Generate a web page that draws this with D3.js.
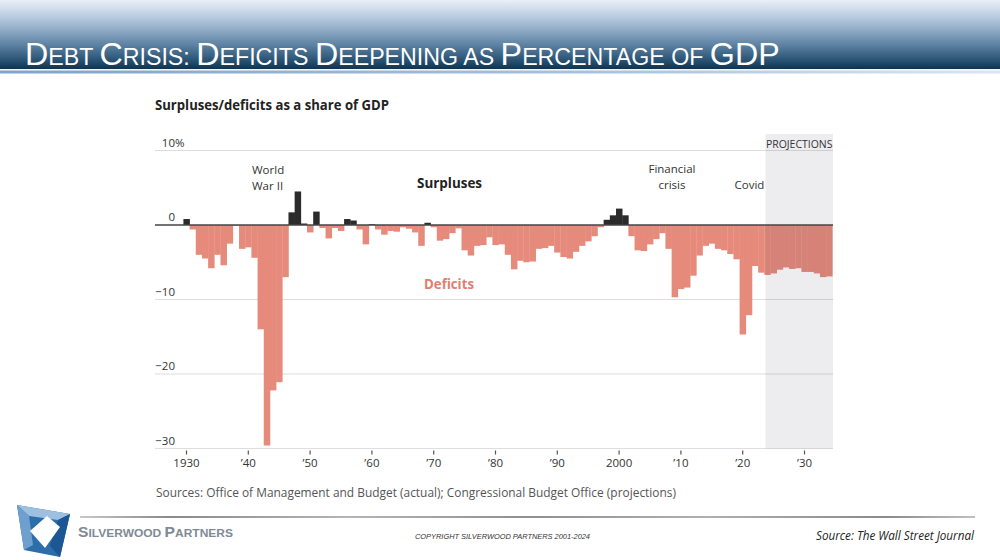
<!DOCTYPE html>
<html><head><meta charset="utf-8">
<script src="https://cdn.jsdelivr.net/npm/d3@7"></script>
<style>
html,body{margin:0;padding:0;background:#fff;}
svg{display:block;}
</style></head>
<body>
<svg id="c" width="1000" height="560"></svg>
<script>
// ---------- DATA ----------
const years = [1930,1931,1932,1933,1934,1935,1936,1937,1938,1939,
1940,1941,1942,1943,1944,1945,1946,1947,1948,1949,
1950,1951,1952,1953,1954,1955,1956,1957,1958,1959,
1960,1961,1962,1963,1964,1965,1966,1967,1968,1969,
1970,1971,1972,1973,1974,1975,1976,1977,1978,1979,
1980,1981,1982,1983,1984,1985,1986,1987,1988,1989,
1990,1991,1992,1993,1994,1995,1996,1997,1998,1999,
2000,2001,2002,2003,2004,2005,2006,2007,2008,2009,
2010,2011,2012,2013,2014,2015,2016,2017,2018,2019,
2020,2021,2022,2023,2024,2025,2026,2027,2028,2029,
2030,2031,2032,2033,2034];
const balance = [0.8,-0.6,-4.0,-4.5,-5.8,-4.0,-5.4,-2.5,-0.1,-3.2,
-3.0,-4.4,-14.0,-29.6,-22.2,-21.1,-7.0,1.7,4.5,0.2,
-1.0,1.8,-0.4,-1.8,-0.4,-0.8,0.8,0.6,-0.6,-2.6,
0.1,-0.6,-1.3,-0.8,-0.9,-0.3,-0.5,-1.0,-2.8,0.3,
-0.3,-2.1,-1.9,-1.1,-0.45,-3.4,-4.1,-2.8,-2.7,-1.65,
-2.7,-2.6,-4.0,-5.95,-4.8,-5.0,-4.9,-3.2,-3.1,-2.8,
-3.7,-4.3,-4.5,-3.6,-2.8,-2.2,-1.5,-0.3,0.7,1.3,
2.2,1.3,-1.5,-3.4,-3.5,-2.6,-1.9,-1.1,-3.2,-9.7,
-8.6,-8.4,-6.8,-4.1,-2.8,-2.5,-3.2,-3.4,-3.9,-4.6,
-14.7,-12.1,-5.5,-6.4,-6.7,-6.5,-6.0,-5.7,-5.9,-5.8,
-6.3,-6.3,-6.5,-7.0,-6.9];
const projectionStart = 2024;
const xTickYears = [1930,1940,1950,1960,1970,1980,1990,2000,2010,2020,2030];
const xTickLabels = ["1930","\u201940","\u201950","\u201960","\u201970","\u201980","\u201990","2000","\u201910","\u201920","\u201930"];
const yTicks = [10,0,-10,-20,-30];
const yTickLabels = ["10","0","\u221210","\u221220","\u221230"];

// ---------- SETUP ----------
const svg = d3.select("#c");
const defs = svg.append("defs");
const FONT = "'Open Sans', 'Noto Sans', sans-serif";

// header gradient
const hg = defs.append("linearGradient").attr("id","hg").attr("x1",0).attr("y1",0).attr("x2",0).attr("y2",1);
[[0,"#e9eff7"],[0.18,"#c5d5e7"],[0.4,"#98b1cb"],[0.65,"#5d82a3"],[0.85,"#2f5878"],[1,"#0e3452"]]
  .forEach(s=>hg.append("stop").attr("offset",s[0]).attr("stop-color",s[1]));
svg.append("rect").attr("x",0).attr("y",0).attr("width",1000).attr("height",69).attr("fill","url(#hg)");
svg.append("rect").attr("x",0).attr("y",69).attr("width",1000).attr("height",1.5).attr("fill","#f4f7fb");
const lb = defs.append("linearGradient").attr("id","lb").attr("x1",0).attr("y1",0).attr("x2",1).attr("y2",0);
[[0,"#7fa3cc"],[0.6,"#a9c2de"],[1,"#dbe6f2"]].forEach(s=>lb.append("stop").attr("offset",s[0]).attr("stop-color",s[1]));
svg.append("rect").attr("x",0).attr("y",70.5).attr("width",1000).attr("height",3).attr("fill","url(#lb)");

// header title in small caps, horizontally condensed to fit
const titleParts = [["D",1],["EBT ",0],["C",1],["RISIS: ",0],["D",1],["EFICITS ",0],["D",1],["EEPENING AS ",0],
  ["P",1],["ERCENTAGE OF ",0],["GDP",1]];
const tg = svg.append("g");
const tt = tg.append("text").attr("x",0).attr("y",0)
  .attr("font-family","'Liberation Sans',Arial,sans-serif")
  .attr("fill","#ffffff");
titleParts.forEach(p=>tt.append("tspan").attr("font-size",p[1]?32:23).text(p[0]));
const tw = tt.node().getComputedTextLength();
tg.attr("transform",`translate(25,65) scale(${755/tw},1)`);

// ---------- CHART ----------
const x = d3.scaleLinear().domain([1930,2030]).range([186,804]);
const y = d3.scaleLinear().domain([-30,10]).range([448.5,150.5]);
const left = 155, right = 833;
const bw = x(1931)-x(1930);

svg.append("text").attr("x",155).attr("y",110).attr("font-family",FONT).attr("font-weight",700)
  .attr("font-size",14).attr("fill","#222").attr("textLength",234).attr("lengthAdjust","spacingAndGlyphs")
  .text("Surpluses/deficits as a share of GDP");

// gridlines
svg.append("g").selectAll("line").data(yTicks.filter(d=>d!==0)).join("line")
  .attr("x1",left).attr("x2",right).attr("y1",d=>y(d)).attr("y2",d=>y(d))
  .attr("stroke","#dedede").attr("stroke-width",1.2);

// y labels
const yl = svg.append("g").attr("font-family",FONT).attr("font-size",11.5).attr("fill","#333");
yl.selectAll("text").data(yTicks).join("text")
  .attr("x",175).attr("y",d=>y(d)-4).attr("text-anchor","end")
  .text((d,i)=>yTickLabels[i]);
yl.append("text").attr("x",175).attr("y",y(10)-4).text("%");

// bars
const data = years.map((yr,i)=>({yr, v:balance[i]}));
svg.append("g").selectAll("rect").data(data).join("rect")
  .attr("x",d=>x(d.yr)-bw/2+0.5)
  .attr("width",bw+0.3)
  .attr("y",d=>d.v>=0?y(d.v):y(0))
  .attr("height",d=>Math.abs(y(d.v)-y(0)))
  .attr("fill",d=>d.v>=0?"#2b2b2b":"#e68a7b");

// projection shade (over bars)
const shadeX = x(projectionStart)-1.5;
svg.append("rect").attr("x",shadeX).attr("y",134).attr("width",right-shadeX).attr("height",y(-30)-134)
  .attr("fill","#2a2a50").attr("fill-opacity",0.085);
svg.append("text").attr("x",shadeX+0.5).attr("y",148).attr("font-family",FONT).attr("font-size",11)
  .attr("fill","#333").attr("textLength",right-shadeX-1).attr("lengthAdjust","spacingAndGlyphs").text("PROJECTIONS");

// zero line
svg.append("line").attr("x1",left).attr("x2",right).attr("y1",y(0)).attr("y2",y(0))
  .attr("stroke","#444").attr("stroke-width",1.3);

// x axis
const xa = svg.append("g").attr("transform",`translate(0,${y(-30)})`)
  .call(d3.axisBottom(x).tickValues(xTickYears).tickFormat((d,i)=>xTickLabels[i]).tickSize(5).tickSizeOuter(0));
xa.select(".domain").remove();
xa.selectAll(".tick line").attr("stroke","#555").attr("stroke-width",1.2).attr("y1",2).attr("y2",6);
xa.selectAll(".tick text").attr("font-family",FONT).attr("font-size",11.5).attr("fill","#333").attr("dy","0.9em").attr("y",8);

// annotations
const ann = svg.append("g").attr("font-family",FONT).attr("font-size",11.5).attr("fill","#333");
ann.append("text").attr("x",252).attr("y",174).text("World");
ann.append("text").attr("x",252).attr("y",190).text("War II");
ann.append("text").attr("x",672).attr("y",173).attr("text-anchor","middle").text("Financial");
ann.append("text").attr("x",672).attr("y",189).attr("text-anchor","middle").text("crisis");
ann.append("text").attr("x",749.5).attr("y",189).attr("text-anchor","middle").text("Covid");
svg.append("text").attr("x",417).attr("y",188).attr("font-family",FONT).attr("font-weight",700).attr("font-size",14.5)
  .attr("fill","#222").attr("textLength",65).attr("lengthAdjust","spacingAndGlyphs").text("Surpluses");
svg.append("text").attr("x",424).attr("y",289).attr("font-family",FONT).attr("font-weight",700).attr("font-size",14.5)
  .attr("fill","#e27e6c").attr("textLength",50).attr("lengthAdjust","spacingAndGlyphs").text("Deficits");

// sources
svg.append("text").attr("x",156).attr("y",497).attr("font-family",FONT).attr("font-size",13)
  .attr("fill","#555").attr("textLength",520).attr("lengthAdjust","spacingAndGlyphs")
  .text("Sources: Office of Management and Budget (actual); Congressional Budget Office (projections)");

// ---------- FOOTER ----------
const sg = defs.append("linearGradient").attr("id","sg").attr("x1",0).attr("y1",0).attr("x2",1).attr("y2",0);
[[0,"#c8c8c8"],[0.1,"#8a8a8a"],[0.3,"#b5b5b5"],[0.5,"#8f8f8f"],[0.7,"#b0b0b0"],[0.9,"#8a8a8a"],[1,"#c0c0c0"]]
  .forEach(s=>sg.append("stop").attr("offset",s[0]).attr("stop-color",s[1]));
svg.append("rect").attr("x",80).attr("y",516).attr("width",895).attr("height",2).attr("fill","url(#sg)");

// logo
const logo = svg.append("g");
logo.append("polygon").attr("points","17,505 70,514 60,557 24,550").attr("fill","#2c6eaa");
logo.append("polygon").attr("points","17,505 70,514 58,520 29,516").attr("fill","#9dbfe0");
logo.append("polygon").attr("points","17,505 29,516 33,545 24,550").attr("fill","#6f9fcf");
logo.append("polygon").attr("points","70,514 60,557 50,546 58,520").attr("fill","#1c5793");
logo.append("polygon").attr("points","47,516 60,527 45,548 30,531").attr("fill","#ffffff");

svg.append("text").attr("x",78).attr("y",537).attr("font-family","'Liberation Sans',Arial,sans-serif")
  .attr("font-weight",700).attr("fill","#7f8a96").attr("textLength",155).attr("lengthAdjust","spacingAndGlyphs")
  .call(t=>{
    [["S",15],["ILVERWOOD ",11.5],["P",15],["ARTNERS",11.5]].forEach(p=>t.append("tspan").attr("font-size",p[1]).text(p[0]));
  });

svg.append("text").attr("x",415).attr("y",539).attr("font-family","'Liberation Sans',Arial,sans-serif")
  .attr("font-style","italic").attr("font-size",7.5).attr("fill","#333").attr("textLength",175)
  .attr("lengthAdjust","spacingAndGlyphs").text("COPYRIGHT SILVERWOOD PARTNERS 2001-2024");

svg.append("text").attr("x",974).attr("y",540).attr("text-anchor","end").attr("font-family",FONT)
  .attr("font-style","italic").attr("font-size",12).attr("fill","#222").attr("textLength",158)
  .attr("lengthAdjust","spacingAndGlyphs").text("Source: The Wall Street Journal");
</script>
</body></html>
